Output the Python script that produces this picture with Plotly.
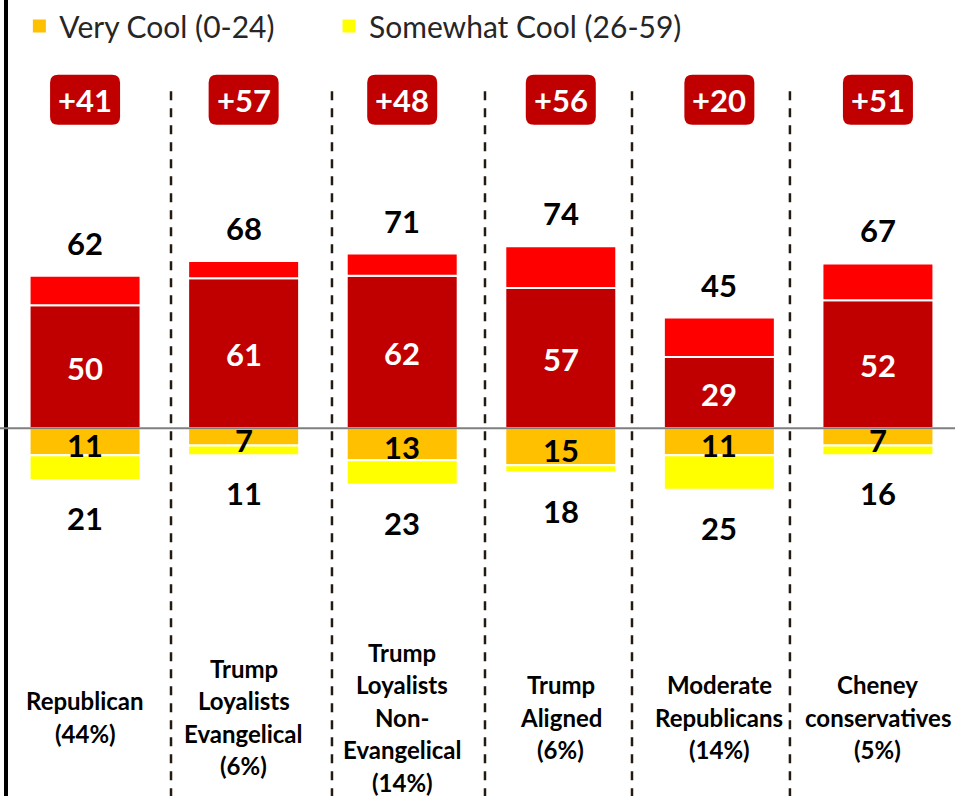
import plotly.graph_objects as go

# ---------------- data ----------------
categories = [
    "Republican<br>(44%)",
    "Trump<br>Loyalists<br>Evangelical<br>(6%)",
    "Trump<br>Loyalists<br>Non-<br>Evangelical<br>(14%)",
    "Trump<br>Aligned<br>(6%)",
    "Moderate<br>Republicans<br>(14%)",
    "Cheney<br>conservatives<br>(5%)",
]
very_warm = [50, 61, 62, 57, 29, 52]
total_warm = [62, 68, 71, 74, 45, 67]
very_cool = [11, 7, 13, 15, 11, 7]
total_cool_labels = [21, 11, 23, 18, 25, 16]
total_cool_bars = [21, 11, 23, 18, 25, 11]   # bar lengths as drawn in the picture
net_labels = [41, 57, 48, 56, 20, 51]
divider_positions = [0.542, 1.557, 2.522, 3.449, 4.445]
legend_names = ["Very Cool (0-24)", "Somewhat Cool (26-59)"]

somewhat_warm = [t - v for t, v in zip(total_warm, very_warm)]
somewhat_cool_bar = [t - v for t, v in zip(total_cool_bars, very_cool)]

# ---------------- style ----------------
FONT = "Lato"
DARK_RED = "#C00000"
RED = "#FF0000"
ORANGE = "#FFC000"
YELLOW = "#FFFF00"
BAR_W = 0.70
NUM_SIZE = 31
x = list(range(len(categories)))

fig = go.Figure()
line = dict(color="white", width=2)
fig.add_bar(x=x, y=very_warm, marker=dict(color=DARK_RED, line=line), width=BAR_W,
            showlegend=False, name="Very Warm")
fig.add_bar(x=x, y=somewhat_warm, marker=dict(color=RED, line=line), width=BAR_W,
            showlegend=False, name="Somewhat Warm")
fig.add_bar(x=x, y=[-v for v in very_cool], marker=dict(color=ORANGE, line=line), width=BAR_W,
            showlegend=False, name=legend_names[0])
fig.add_bar(x=x, y=[-v for v in somewhat_cool_bar], marker=dict(color=YELLOW, line=line), width=BAR_W,
            showlegend=False, name=legend_names[1])

# legend entries (one legend box per item, placed like the original)
fig.add_scatter(x=[None], y=[None], mode="markers", name=legend_names[0],
                marker=dict(symbol="square", size=13, color=ORANGE), legend="legend")
fig.add_scatter(x=[None], y=[None], mode="markers", name=legend_names[1],
                marker=dict(symbol="square", size=13, color=YELLOW), legend="legend2")

Y_MIN, Y_MAX = -149.5, 174.1
NET_Y = 133.5
LABEL_CENTER_Y = -117.4
LINE_H = 32.5

annotations = []
for i in x:
    annotations.append(dict(x=i, y=total_warm[i], text=f"<b>{total_warm[i]}</b>", showarrow=False,
                            yanchor="middle", yshift=33,
                            font=dict(family=FONT, size=NUM_SIZE, color="black")))
    annotations.append(dict(x=i, y=very_warm[i] / 2, text=f"<b>{very_warm[i]}</b>", showarrow=False,
                            yanchor="middle", yshift=-1,
                            font=dict(family=FONT, size=NUM_SIZE, color="white")))
    annotations.append(dict(x=i, y=-very_cool[i] / 2, text=f"<b>{very_cool[i]}</b>", showarrow=False,
                            yanchor="middle", yshift=-3,
                            font=dict(family=FONT, size=NUM_SIZE, color="black")))
    annotations.append(dict(x=i, y=-total_cool_bars[i], text=f"<b>{total_cool_labels[i]}</b>",
                            showarrow=False, yanchor="middle", yshift=-38,
                            font=dict(family=FONT, size=NUM_SIZE, color="black")))
    annotations.append(dict(x=i, y=NET_Y, text=f"<b>+{net_labels[i]}</b>", showarrow=False,
                            yanchor="middle", yshift=0,
                            font=dict(family=FONT, size=NUM_SIZE, color="white")))
    lines = categories[i].split("<br>")
    n = len(lines)
    for k, ln in enumerate(lines):
        annotations.append(dict(x=i, y=LABEL_CENTER_Y, text=f"<b>{ln}</b>", showarrow=False,
                                yanchor="middle", yshift=((n - 1) / 2 - k) * LINE_H,
                                font=dict(family=FONT, size=24, color="black")))

shapes = []
W, H, R = 35, 25, 8
box_path = (f"M {-W+R},{-H} L {W-R},{-H} Q {W},{-H} {W},{-H+R} L {W},{H-R} Q {W},{H} {W-R},{H} "
            f"L {-W+R},{H} Q {-W},{H} {-W},{H-R} L {-W},{-H+R} Q {-W},{-H} {-W+R},{-H} Z")
for i in x:
    shapes.append(dict(type="path", xref="x", yref="y", xsizemode="pixel", ysizemode="pixel",
                       xanchor=i, yanchor=NET_Y, path=box_path,
                       fillcolor=DARK_RED, line=dict(width=0), layer="below"))
for d in divider_positions:
    shapes.append(dict(type="line", xref="x", yref="y", x0=d, x1=d, y0=137, y1=Y_MIN,
                       line=dict(color="#231a12", width=2.5, dash="9px,8px"), layer="below"))
shapes.append(dict(type="line", xref="paper", yref="y", x0=-0.009, x1=1, y0=0, y1=0,
                   line=dict(color="#7f7f7f", width=2), layer="above"))

legend_style = dict(orientation="h", y=1, xanchor="left", yanchor="top",
                    font=dict(family=FONT, size=30, color="#262626"),
                    bgcolor="rgba(0,0,0,0)")

fig.update_layout(
    width=955, height=796,
    margin=dict(l=8, r=0, t=0, b=0),
    barmode="relative",
    plot_bgcolor="white", paper_bgcolor="white",
    font=dict(family=FONT),
    xaxis=dict(range=[-0.486, 5.486], showticklabels=False, showgrid=False, zeroline=False,
               showline=False, ticks=""),
    yaxis=dict(range=[Y_MIN, Y_MAX], showticklabels=False, showgrid=False, zeroline=False,
               showline=True, linecolor="black", linewidth=4, ticks=""),
    legend=dict(x=0.012, **legend_style),
    legend2=dict(x=0.339, **legend_style),
    annotations=annotations,
    shapes=shapes,
)

fig.write_html("out.html", config={"displayModeBar": False},
               post_script="document.body.style.margin='0';")
